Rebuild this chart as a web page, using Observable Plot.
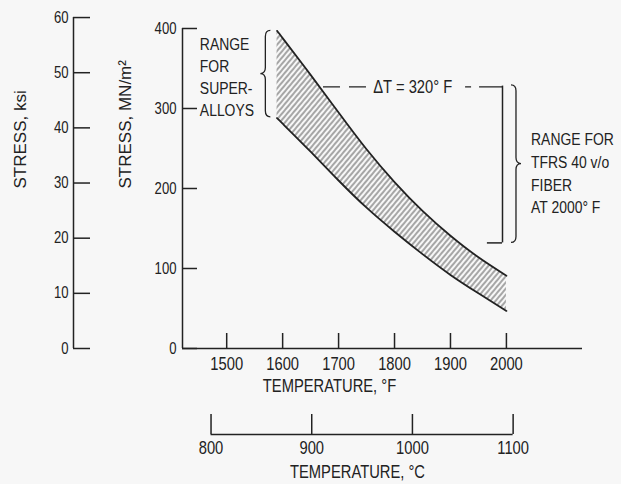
<!DOCTYPE html>
<html>
<head>
<meta charset="utf-8">
<script src="https://cdn.jsdelivr.net/npm/d3@7"></script>
<script src="https://cdn.jsdelivr.net/npm/@observablehq/plot@0.6"></script>
<style>
  html, body { margin: 0; padding: 0; background: #f7f7f7; }
  #chart svg { display: block; }
</style>
</head>
<body>
<div id="chart"></div>
<script>
// ---- data ----
const temperatureF = [1590, 1600, 1650, 1700, 1750, 1800, 1850, 1900, 1950, 2000];
const upperStress  = [397, 388, 342, 295, 249, 208, 172, 141, 114, 91];   // MN/m^2
const lowerStress  = [288, 281, 246, 210, 176, 146, 118, 92, 69, 47];     // MN/m^2

const fahrenheitTicks = [1500, 1600, 1700, 1800, 1900, 2000];
const stressTicks = [0, 100, 200, 300, 400];
const ksiTicks = [0, 10, 20, 30, 40, 50, 60];
const celsiusTicks = [800, 900, 1000, 1100];

const superalloyLines = ["RANGE", "FOR", "SUPER-", "ALLOYS"];
const tfrsLines = ["RANGE FOR", "TFRS 40 v/o", "FIBER", "AT 2000° F"];
const deltaTText = "ΔT = 320° F";

// annotation anchors (data units: °F, MN/m^2)
const superalloyRange = {t: 1570, top: 397, bottom: 289};
const tfrsRange = {t: 1993, top: 328, bottom: 132};
const tfrsBrace = {t: 2018, top: 329, bottom: 132};
const deltaTLeft = [1673, 1755];
const deltaTRight = [1927, 1993];
const deltaTLevel = 327;
const tfrsCap = [1966, 1993];

// ---- helpers ----
const toF = c => c * 9 / 5 + 32;
const toC = f => Math.round((f - 32) * 5 / 9);
const KSI = 6.894757;
const xDomain = [1421, 2136];

const band = temperatureF.map((t, i) => ({t, upper: upperStress[i], lower: lowerStress[i]}));

const font = '"Liberation Sans", Arial, sans-serif';
const ink = "#222";

function braces(list) {
  return (index, scales) => {
    const g = d3.create("svg:g").attr("fill", "none").attr("stroke", ink).attr("stroke-width", 1.3);
    for (const b of list) {
      const px = scales.x(b.t), ya = scales.y(b.top), yb = scales.y(b.bottom), ym = (ya + yb) / 2;
      const s = b.side, e = 5, r = 6;
      g.append("path").attr("d",
        `M${px - s * e},${ya} Q${px},${ya} ${px},${ya + r} L${px},${ym - r} ` +
        `Q${px},${ym} ${px + s * e},${ym} Q${px},${ym} ${px},${ym + r} ` +
        `L${px},${yb - r} Q${px},${yb} ${px - s * e},${yb}`);
    }
    return g.node();
  };
}

const chart = Plot.plot({
  width: 621,
  height: 484,
  marginLeft: 182,
  marginRight: 39,
  marginTop: 28,
  marginBottom: 136,
  x: {domain: xDomain},
  y: {domain: [0, 400]},
  style: {fontFamily: font, fontSize: "15px", color: ink, background: "#f7f7f7", overflow: "visible"},
  marks: [
    // hatched band
    Plot.areaY(band, {x: "t", y1: "lower", y2: "upper", curve: "natural", fill: "url(#hatch)"}),
    Plot.line(band, {x: "t", y: "upper", curve: "natural", stroke: ink, strokeWidth: 1.8}),
    Plot.line(band, {x: "t", y: "lower", curve: "natural", stroke: ink, strokeWidth: 1.8}),

    // main frame lines
    Plot.ruleY([0], {stroke: ink, strokeWidth: 1.5}),
    Plot.ruleX([xDomain[0]], {stroke: ink, strokeWidth: 1.5}),

    // MN/m^2 axis
    Plot.axisY(stressTicks, {anchor: "left", tickSize: -15, fill: "none", label: null, strokeWidth: 1.5}),
    Plot.axisY(stressTicks, {anchor: "left", tickSize: 0, tickPadding: 6, label: null, fontSize: 16, tickFormat: d => String(d)}),

    // ksi axis
    Plot.ruleX([xDomain[0]], {y1: 0, y2: ksiTicks[ksiTicks.length - 1] * KSI, dx: -109, stroke: ink, strokeWidth: 1.5}),
    Plot.axisY(ksiTicks.map(k => k * KSI), {anchor: "left", dx: -109, tickSize: -17, fill: "none", label: null, strokeWidth: 1.5}),
    Plot.axisY(ksiTicks.map(k => k * KSI), {anchor: "left", dx: -109, tickSize: 0, tickPadding: 5, label: null, fontSize: 16, tickFormat: d => String(Math.round(d / KSI))}),

    // °F axis
    Plot.axisX(fahrenheitTicks, {anchor: "bottom", tickSize: -15, fill: "none", label: null, strokeWidth: 1.5}),
    Plot.axisX(fahrenheitTicks, {anchor: "bottom", tickSize: 0, tickPadding: 9, label: null, fontSize: 18, tickFormat: d => String(d)}),

    // °C axis
    Plot.ruleY([celsiusTicks], {x1: d => toF(d[0]), x2: d => toF(d[d.length - 1]), y: () => 0, dy: 86, stroke: ink, strokeWidth: 1.5}),
    Plot.axisX(celsiusTicks.map(toF), {anchor: "bottom", dy: 86, tickSize: -20, fill: "none", label: null, strokeWidth: 1.5}),
    Plot.axisX(celsiusTicks.map(toF), {anchor: "bottom", dy: 86, tickSize: 0, tickPadding: 7, label: null, fontSize: 18, tickFormat: d => String(toC(d))}),

    // axis titles
    Plot.text(["STRESS, ksi"], {frameAnchor: "left", dx: -162, rotate: -90, fontSize: 17}),
    Plot.text(["STRESS, MN/m²"], {frameAnchor: "left", dx: -57, rotate: -90, fontSize: 17}),
    Plot.text(["TEMPERATURE, °F"], {frameAnchor: "bottom", dx: -53, dy: 43, fontSize: 18}),
    Plot.text(["TEMPERATURE, °C"], {frameAnchor: "bottom", dx: -25, dy: 129, fontSize: 18}),

    // superalloy annotation
    Plot.text([superalloyLines.join("\n")], {x: () => 1452, y: () => 341, textAnchor: "start", lineHeight: 1.3, fontSize: 17}),
    braces([{...superalloyRange, side: -1}, {...tfrsBrace, side: 1}]),

    // ΔT annotation
    Plot.ruleY([deltaTLevel], {x1: () => deltaTLeft[0], x2: () => deltaTLeft[1], stroke: ink, strokeWidth: 1.3, strokeDasharray: "17,9"}),
    Plot.text([deltaTText], {x: () => 1762, y: () => deltaTLevel, textAnchor: "start", fontSize: 18}),
    Plot.ruleY([deltaTLevel], {x1: () => deltaTRight[0], x2: () => deltaTRight[1], stroke: ink, strokeWidth: 1.3, strokeDasharray: "6,8,30"}),

    // TFRS range bar
    Plot.ruleX([tfrsRange], {x: "t", y1: "bottom", y2: "top", stroke: ink, strokeWidth: 1.5}),
    Plot.ruleY([tfrsRange], {x1: () => tfrsCap[0], x2: () => tfrsCap[1], y: "bottom", stroke: ink, strokeWidth: 1.5}),
    Plot.text([tfrsLines.join("\n")], {x: () => 2044, y: () => 221, textAnchor: "start", lineHeight: 1.35, fontSize: 17})
  ]
});

// hatch pattern
const defs = d3.select(chart).insert("defs", ":first-child");
const pat = defs.append("pattern")
  .attr("id", "hatch")
  .attr("patternUnits", "userSpaceOnUse")
  .attr("width", 4)
  .attr("height", 4)
  .attr("patternTransform", "rotate(40)");
pat.append("line").attr("x1", 1).attr("y1", 0).attr("x2", 1).attr("y2", 4)
  .attr("stroke", "#555").attr("stroke-width", 1);

document.getElementById("chart").appendChild(chart);

// condensed lettering, like the original's narrow typeface (horizontal texts only):
// squeeze each text horizontally about its own anchor point
d3.select(chart).selectAll("text").each(function () {
  const tr = this.getAttribute("transform") || "";
  if (tr.includes("rotate")) return;
  const x = +this.getAttribute("x") || 0, y = +this.getAttribute("y") || 0;
  this.setAttribute("transform", `${tr} translate(${x},${y}) scale(0.82,1) translate(${-x},${-y})`);
});
</script>
</body>
</html>
